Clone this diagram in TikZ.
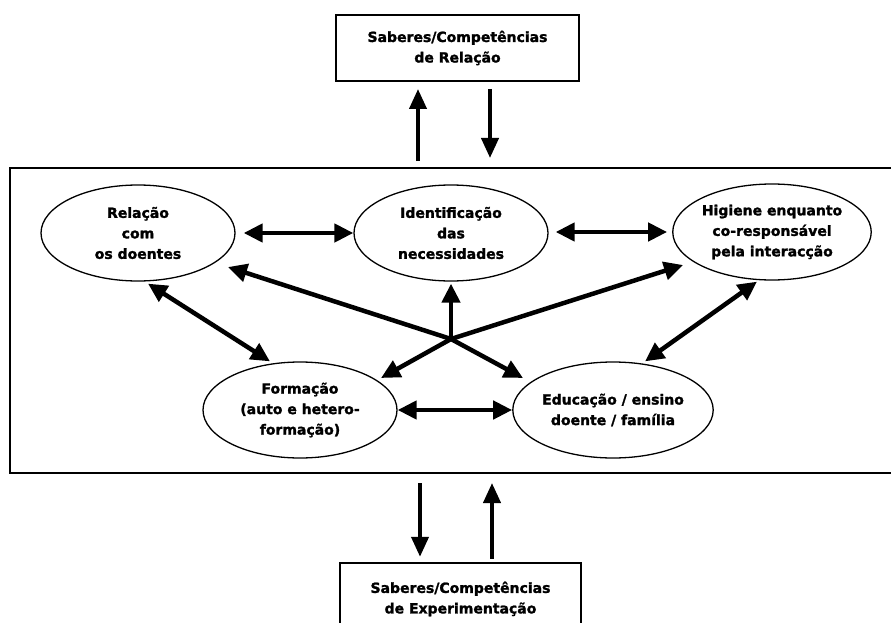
\documentclass[tikz,border=0pt]{standalone}
\usepackage{fontspec}
\setmainfont{DejaVu Sans}[BoldFeatures={FakeBold=1.6}]
\usetikzlibrary{arrows.meta,calc,shapes.geometric}
\begin{document}
\begin{tikzpicture}[x=1pt,y=-1pt,
  lbl/.style={font=\bfseries\fontsize{14}{20.5}\selectfont, align=center},
  bubble/.style={ellipse, draw, line width=1.3pt, minimum width=194pt,
    minimum height=96pt, inner sep=0pt, lbl},
  box/.style={rectangle, minimum width=243pt, minimum height=66pt,
    inner sep=0pt, lbl},
  tip/.tip={Triangle[length=19pt,width=18pt]},
  link/.style={line width=4.5pt, -tip},
  dlink/.style={line width=4.5pt, tip-tip},
  vlink/.style={line width=4pt, -{Triangle[length=20pt,width=17pt]}},
  frame/.style={line width=2.2pt}]
\useasboundingbox (0,0) rectangle (891,623);

% outer boxes
\node[box, draw, line width=2pt] (top) at (457.5,48) {Saberes/Competências\\de Relação};
\node[box] (bot) at (460.5,599) {Saberes/Competências\\de Experimentação};
\draw[frame] (340,626) -- (340,563) -- (581,563) -- (581,626);

% central frame
\draw[frame] (892,168) -- (10,168) -- (10,473) -- (892,473);
\coordinate (ftop) at (450,168);
\coordinate (fbot) at (450,473);

% bubbles
\node[bubble] (rel) at (138,233) {Relação\\com\\os doentes};
\node[bubble] (ide) at (451,233) {Identificação\\das\\necessidades};
\node[bubble] (hig) at (772,232) {Higiene enquanto\\co-responsável\\pela interacção};
\node[bubble] (for) at (300,410) {Formação\\(auto e hetero-\\formação)};
\node[bubble] (edu) at (613,410) {Educação / ensino\\doente / família};

% links with the outer boxes
\draw[vlink] ($(ftop)+(-32,-7)$) -- ($(top.south)+(-39.5,7)$);
\draw[vlink] ($(top.south)+(32.5,7)$) -- ($(ftop)+(40,-10)$);
\draw[vlink] ($(fbot)+(-30,10)$) -- ($(bot.north)+(-40.5,-9)$);
\draw[vlink] ($(bot.north)+(31.5,-7)$) -- ($(fbot)+(42,10)$);

% links between bubbles
\draw[dlink] ($(rel.east)+(8,0)$) -- (ide.west);
\draw[dlink] ($(ide.east)+(7,-1)$) -- ($(hig.west)+(-5,0)$);
\draw[dlink] (for.east) -- (edu.west);
\draw[dlink] ($(rel.south)+(10,2)$) -- ($(for.north)+(-30,0)$);
\draw[dlink] ($(hig.south)+(-15,1)$) -- ($(edu.north)+(32,0)$);

% star from the common point
\coordinate (hub) at (451,339);
\draw[link] (hub) -- ($(ide.south)+(0,2)$);
\draw[link] (hub) -- ($(rel.center)+(90,34)$);
\draw[link] (hub) -- ($(hig.center)+(-89,33)$);
\draw[link] (hub) -- ($(for.center)+(81,-32)$);
\draw[link] (hub) -- ($(edu.center)+(-90,-32)$);
\end{tikzpicture}
\end{document}
